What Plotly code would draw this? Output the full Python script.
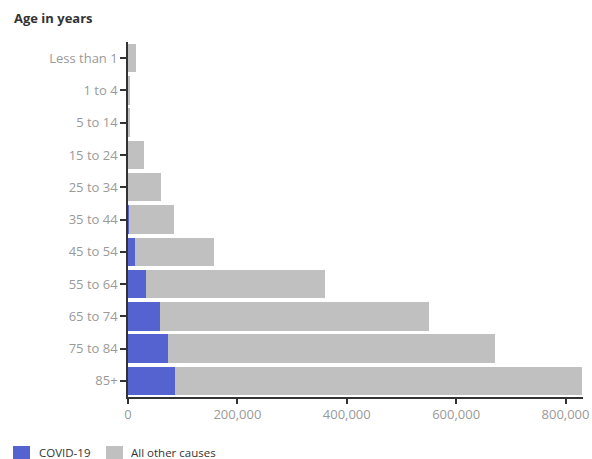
import plotly.graph_objects as go

categories = ["Less than 1", "1 to 4", "5 to 14", "15 to 24", "25 to 34", "35 to 44",
              "45 to 54", "55 to 64", "65 to 74", "75 to 84", "85+"]
covid = [20, 20, 60, 300, 700, 2500, 12000, 33000, 58000, 74000, 86000]
total = [14000, 2500, 4000, 28500, 60000, 85000, 156500, 360500, 551000, 671000, 831000]
other = [t - c for t, c in zip(total, covid)]
x_ticks = [0, 200000, 400000, 600000, 800000]

BLUE = "#5563d1"
GREY = "#c0c0c0"
FONT = "Open Sans"

fig = go.Figure()
fig.add_trace(go.Bar(y=categories, x=covid, orientation="h", name="COVID-19",
                     marker=dict(color=BLUE, line=dict(width=0)), showlegend=False))
fig.add_trace(go.Bar(y=categories, x=other, orientation="h", name="All other causes",
                     marker=dict(color=GREY, line=dict(width=0)), showlegend=False))

W, H = 592, 459
l, r, t, b = 128, 9, 42, 62
pw, ph = W - l - r, H - t - b

fig.update_layout(
    width=W, height=H,
    barmode="stack", bargap=0.12,
    margin=dict(l=l, r=r, t=t, b=b, autoexpand=False),
    paper_bgcolor="white", plot_bgcolor="white",
    font=dict(family=FONT, size=13, color="#9a9a9a"),
    xaxis=dict(range=[0, 832000], tickvals=x_ticks, tickformat=",", showgrid=False,
               zeroline=False, showline=True, linecolor="#333", linewidth=1.5,
               ticks="outside", ticklen=5, tickcolor="#333", tickwidth=1.5,
               automargin=False, tickfont=dict(size=13, color="#9a9a9a")),
    yaxis=dict(autorange="reversed", showgrid=False, zeroline=False, showline=True,
               linecolor="#333", linewidth=1.5, ticks="outside", ticklen=6,
               tickcolor="#333", tickwidth=1.5, automargin=False,
               tickfont=dict(size=13, color="#9a9a9a")),
)

def px_text(text, x, y, size, color, bold=False):
    return dict(text=f"<b>{text}</b>" if bold else text,
                x=(x - l) / pw, y=(H - b - y) / ph, xref="paper", yref="paper",
                showarrow=False, xanchor="left", yanchor="middle",
                font=dict(size=size, color=color, family=FONT))

def px_rect(x0, y0, x1, y1, color):
    return dict(type="rect", xref="paper", yref="paper",
                x0=(x0 - l) / pw, x1=(x1 - l) / pw,
                y0=(H - b - y1) / ph, y1=(H - b - y0) / ph,
                fillcolor=color, line=dict(width=0), layer="above")

fig.update_layout(
    annotations=[
        px_text("Age in years", 12, 18, 13, "#333", bold=True),
        px_text("COVID-19", 37, 452, 11.5, "#333"),
        px_text("All other causes", 129, 452, 11.5, "#333"),
    ],
    shapes=[px_rect(13, 446, 30, 459, BLUE), px_rect(106, 446, 123, 459, GREY)],
)

fig.write_html("out.html")
